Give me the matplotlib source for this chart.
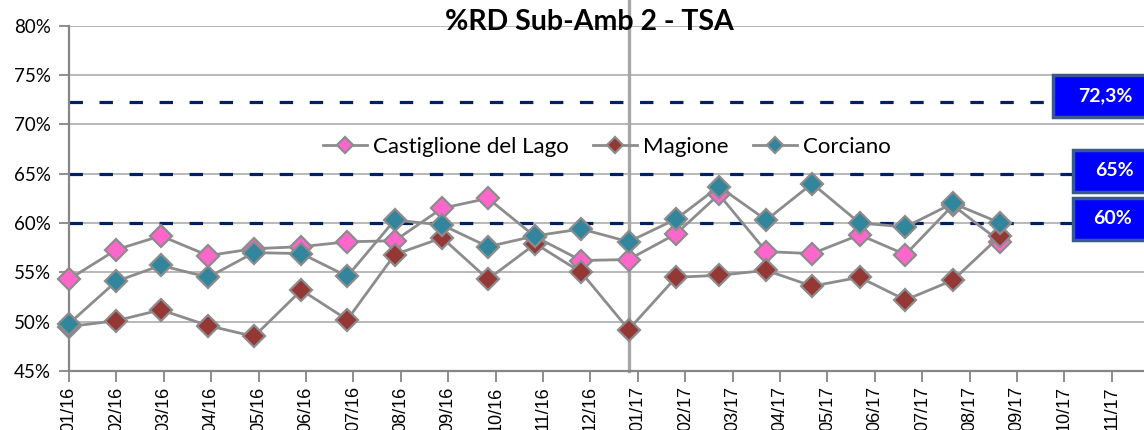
import numpy as np
import matplotlib
matplotlib.use('Agg')
import matplotlib.pyplot as plt
from matplotlib.patches import Rectangle
from matplotlib.ticker import FuncFormatter

plt.rcParams['font.family'] = ['Lato', 'DejaVu Sans']

# Dati (% raccolta differenziata)
mesi = ['2016-01', '2016-02', '2016-03', '2016-04', '2016-05', '2016-06', '2016-07',
        '2016-08', '2016-09', '2016-10', '2016-11', '2016-12', '2017-01', '2017-02',
        '2017-03', '2017-04', '2017-05', '2017-06', '2017-07', '2017-08', '2017-09']
castiglione = [54.3, 57.3, 58.7, 56.7, 57.4, 57.6, 58.1, 58.2, 61.5, 62.5, 58.6,
               56.2, 56.3, 58.9, 62.9, 57.1, 56.9, 58.8, 56.8, 61.8, 58.1]
magione = [49.5, 50.1, 51.2, 49.6, 48.5, 53.2, 50.2, 56.8, 58.5, 54.3, 57.9,
           55.0, 49.2, 54.5, 54.7, 55.2, 53.6, 54.5, 52.2, 54.2, 58.7]
corciano = [49.8, 54.1, 55.7, 54.5, 57.0, 56.9, 54.6, 60.3, 59.8, 57.6, 58.7,
            59.4, 58.1, 60.4, 63.7, 60.3, 64.0, 60.0, 59.6, 62.0, 60.0]
obiettivi = [72.3, 65, 60]
etichette_obiettivi = ['72,3%', '65%', '60%']

inizio = np.datetime64('2016-01-01')
x = (np.array(mesi, dtype='datetime64[D]') - inizio).astype(int)

# asse date con passo 31 giorni (come Excel)
tick_giorni = np.arange(0, 23) * 31
tick_date = inizio + tick_giorni.astype('timedelta64[D]')
tick_lab = [str(d)[5:7] + '/' + str(d)[2:4] for d in tick_date]

W, H = 1144, 430
fig = plt.figure(figsize=(W / 100, H / 100), dpi=100)
ax = fig.add_axes([69 / W, (H - 371) / H, 1 - 69 / W + 0.01, (371 - 25.7) / H])

ax.set_ylim(45, 80)
ax.set_xlim(0, 703 * (1 + 0.01 * W / 1075))
ax.set_yticks(np.arange(45, 81, 5))
ax.yaxis.set_major_formatter(FuncFormatter(lambda v, p: '%d%%' % v))
ax.set_xticks(tick_giorni)
ax.set_xticklabels(tick_lab, rotation=90, fontsize=13, family='Liberation Sans')
ax.tick_params(axis='y', labelsize=13.5, length=7, width=1.3, color='#868686', pad=6)
ax.tick_params(axis='x', length=8, width=1.3, color='#868686', pad=3)
ax.grid(axis='y', color='#A6A6A6', lw=1.1)
ax.set_axisbelow(True)
for s in ['top', 'right']:
    ax.spines[s].set_visible(False)
for s in ['left', 'bottom']:
    ax.spines[s].set_color('#868686')
    ax.spines[s].set_linewidth(1.6)

# linee obiettivo
for v in obiettivi:
    ax.axhline(v, color='#002060', lw=2.3, dashes=(4.2, 5.2), zorder=2)

# linea verticale inizio 2017
ax.axvline(x[12], ymin=0, ymax=371 / 345.3, color='#A6A6A6', lw=2.4, clip_on=False, zorder=2)

serie = [('Castiglione del Lago', castiglione, '#FF66CC'),
         ('Magione', magione, '#953735'),
         ('Corciano', corciano, '#31859C')]
for nome, vals, col in serie:
    ax.plot(x, vals, color='#8C8C8C', lw=2, marker='D', ms=11, mfc=col,
            mec='#8C8C8C', mew=1.6, label=nome, zorder=3, clip_on=False)

ax.legend(loc='center', bbox_to_anchor=(0.495, 0.649), ncol=3, frameon=False,
          fontsize=16, markerscale=0.72, handlelength=2.0, columnspacing=1.1,
          handletextpad=0.25)

fig.text(589 / W, 1 - 22 / H, '%RD Sub-Amb 2 - TSA', ha='center', va='center',
         fontsize=20.5, fontweight='bold')

# riquadri obiettivo
box_x = [1053, 1073, 1073]
box_top = [75, 150, 198]
txt_x = [1105, 1114, 1113]
for bx, bt, tx, lab in zip(box_x, box_top, txt_x, etichette_obiettivi):
    r = Rectangle((bx / W, 1 - (bt + 42) / H), 120 / W, 42 / H, transform=fig.transFigure,
                  facecolor='#0000FF', edgecolor='#3B5A8C', lw=2.5, zorder=5)
    fig.patches.append(r)
    fig.text(tx / W, 1 - (bt + 21) / H, lab, ha='center', va='center', color='white',
             fontsize=14, fontweight='bold', zorder=6)

fig.savefig('out.png', dpi=100)
